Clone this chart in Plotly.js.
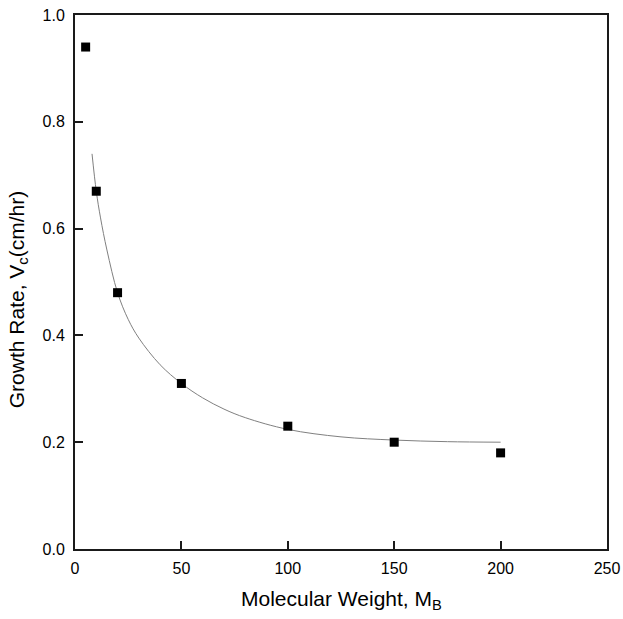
<!DOCTYPE html>
<html>
<head>
<meta charset="utf-8">
<script src="https://cdn.plot.ly/plotly-3.0.1.min.js"></script>
<style>
  html, body { margin: 0; padding: 0; background: #fff; }
  #chart { width: 623px; height: 619px; }
</style>
</head>
<body>
<div id="chart"></div>
<script>
// Measured growth rate vs. molecular weight
const molWeight = [5, 10, 20, 50, 100, 150, 200];
const growthRate = [0.94, 0.67, 0.48, 0.31, 0.23, 0.20, 0.18];

// Fitted decay curve, sampled along its length
const fitX = [8, 10, 12, 15, 20, 25, 30, 40, 50, 60, 70, 80, 100, 125, 150, 175, 200];
const fitY = [0.74, 0.67, 0.62, 0.56, 0.48, 0.43, 0.395, 0.345, 0.31, 0.283, 0.262, 0.246, 0.224, 0.21, 0.204, 0.201, 0.20];

const xTicks = [0, 50, 100, 150, 200, 250];
const yTicks = [0.0, 0.2, 0.4, 0.6, 0.8, 1.0];

const xTitle = 'Molecular Weight, M<sub>B</sub>';
const yTitle = 'Growth Rate, V<sub>c</sub>(cm/hr)';

const font = 'Liberation Sans, Arial, sans-serif';

const traces = [
  {
    x: fitX, y: fitY, type: 'scatter', mode: 'lines',
    line: { color: '#808080', width: 1, shape: 'spline' },
    hoverinfo: 'skip'
  },
  {
    x: molWeight, y: growthRate, type: 'scatter', mode: 'markers',
    marker: { symbol: 'square', size: 9, color: '#000' }
  }
];

const axisCommon = {
  showgrid: false, zeroline: false,
  showline: true, linecolor: '#1a1a1a', linewidth: 2, mirror: true,
  ticks: 'inside', ticklen: 8, tickwidth: 2, tickcolor: '#1a1a1a',
  tickfont: { family: font, size: 16, color: '#000' }
};

const titleFont = { family: font, size: 21, color: '#000' };

const layout = {
  width: 623, height: 619,
  margin: { l: 75, r: 16, t: 15, b: 70 },
  paper_bgcolor: '#fff', plot_bgcolor: '#fff',
  showlegend: false,
  xaxis: Object.assign({}, axisCommon, {
    range: [0, 250], tickvals: xTicks, ticktext: xTicks.map(String),
    ticklabelstandoff: 4
  }),
  yaxis: Object.assign({}, axisCommon, {
    range: [0, 1.0], tickvals: yTicks, ticktext: yTicks.map(v => v.toFixed(1)),
    ticklabelstandoff: 5
  }),
  // Axis titles placed as annotations for tighter control of their offsets
  annotations: [
    {
      text: xTitle, xref: 'paper', yref: 'paper', x: 0.5, y: -0.096,
      xanchor: 'center', yanchor: 'middle', showarrow: false, font: titleFont
    },
    {
      text: yTitle, xref: 'paper', yref: 'paper', x: -0.107, y: 0.466,
      xanchor: 'center', yanchor: 'middle', textangle: -90, showarrow: false, font: titleFont
    }
  ]
};

Plotly.newPlot('chart', traces, layout, { staticPlot: true });
</script>
</body>
</html>
